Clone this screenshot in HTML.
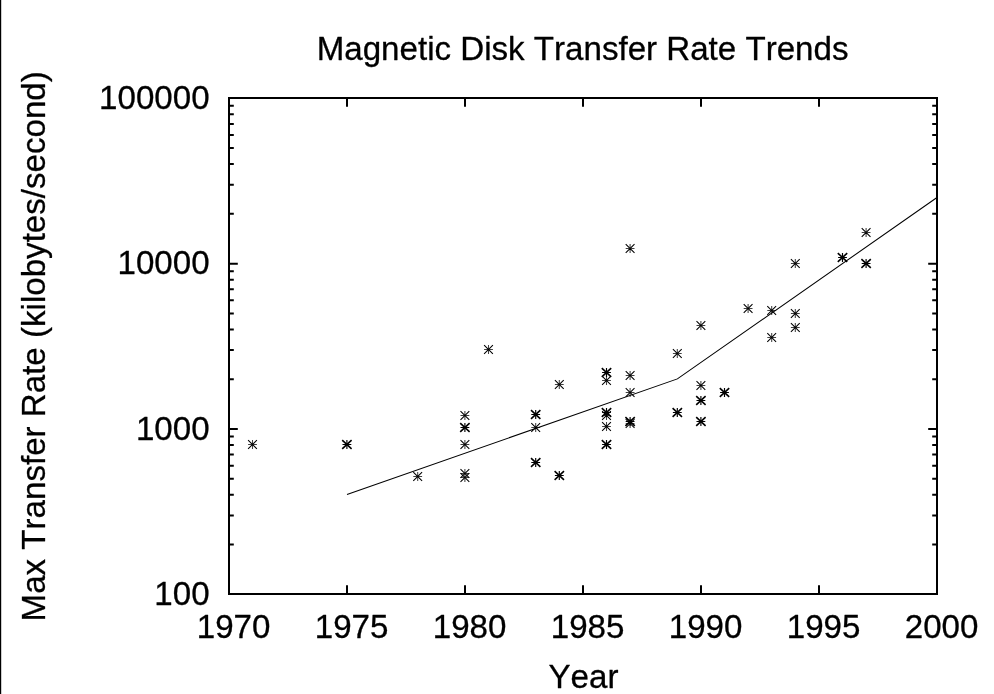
<!DOCTYPE html>
<html><head><meta charset="utf-8"><title>Magnetic Disk Transfer Rate Trends</title>
<style>html,body{margin:0;padding:0;background:#fff;}body{width:994px;height:694px;overflow:hidden;}svg{display:block;will-change:transform;}text{font-family:"Liberation Sans",sans-serif;fill:#000;font-kerning:none;}</style></head><body>
<svg width="994" height="694" viewBox="0 0 994 694">
<rect x="0" y="0" width="994" height="694" fill="#fff"/>
<rect x="0" y="0" width="1.2" height="694" fill="#000"/>
<g stroke="#000" stroke-width="2" fill="none" stroke-linecap="butt">
<rect x="229.0" y="98.0" width="708.0" height="496.0"/>
<path d="M347 594.0V585.2M347 98.0V106.8M465 594.0V585.2M465 98.0V106.8M583 594.0V585.2M583 98.0V106.8M701 594.0V585.2M701 98.0V106.8M819 594.0V585.2M819 98.0V106.8M229.0 544.5H233.8M937.0 544.5H932.2M229.0 515.5H233.8M937.0 515.5H932.2M229.0 494.75H233.8M937.0 494.75H932.2M229.0 478.75H233.8M937.0 478.75H932.2M229.0 465.75H233.8M937.0 465.75H932.2M229.0 454.5H233.8M937.0 454.5H932.2M229.0 445.0H233.8M937.0 445.0H932.2M229.0 436.5H233.8M937.0 436.5H932.2M229.0 429.0H237.8M937.0 429.0H928.2M229.0 379.25H233.8M937.0 379.25H932.2M229.0 350.0H233.8M937.0 350.0H932.2M229.0 329.5H233.8M937.0 329.5H932.2M229.0 313.5H233.8M937.0 313.5H932.2M229.0 300.25H233.8M937.0 300.25H932.2M229.0 289.25H233.8M937.0 289.25H932.2M229.0 279.75H233.8M937.0 279.75H932.2M229.0 271.25H233.8M937.0 271.25H932.2M229.0 263.75H237.8M937.0 263.75H928.2M229.0 213.75H233.8M937.0 213.75H932.2M229.0 184.75H233.8M937.0 184.75H932.2M229.0 164.0H233.8M937.0 164.0H932.2M229.0 148.0H233.8M937.0 148.0H932.2M229.0 135.0H233.8M937.0 135.0H932.2M229.0 124.0H233.8M937.0 124.0H932.2M229.0 114.25H233.8M937.0 114.25H932.2M229.0 105.75H233.8M937.0 105.75H932.2"/>
</g>
<polyline fill="none" stroke="#000" stroke-width="1.05" points="347.00,494.46 677.40,378.90 937.00,197.54"/>
<g stroke="#000" fill="none">
<path stroke-width="1.05" stroke-opacity="0.75" d="M248.10 444.5H256.90M252.50 440.1V448.9M413.30 476.5H422.10M417.70 472.1V480.9M460.50 415.5H469.30M464.90 411.1V419.9M460.50 444.5H469.30M464.90 440.1V448.9M460.50 473.5H469.30M464.90 469.1V477.9M460.50 477.5H469.30M464.90 473.1V481.9M484.10 349.5H492.90M488.50 345.1V353.9M531.30 427.5H540.10M535.70 423.1V431.9M554.90 384.5H563.70M559.30 380.1V388.9M602.10 380.5H610.90M606.50 376.1V384.9M602.10 415.5H610.90M606.50 411.1V419.9M602.10 426.5H610.90M606.50 422.1V430.9M625.70 248.5H634.50M630.10 244.1V252.9M625.70 375.5H634.50M630.10 371.1V379.9M625.70 392.5H634.50M630.10 388.1V396.9M625.70 423.5H634.50M630.10 419.1V427.9M672.90 353.5H681.70M677.30 349.1V357.9M696.50 325.5H705.30M700.90 321.1V329.9M696.50 385.5H705.30M700.90 381.1V389.9M743.70 308.5H752.50M748.10 304.1V312.9M767.30 310.5H776.10M771.70 306.1V314.9M767.30 337.5H776.10M771.70 333.1V341.9M790.90 263.5H799.70M795.30 259.1V267.9M790.90 313.5H799.70M795.30 309.1V317.9M790.90 327.5H799.70M795.30 323.1V331.9M861.70 232.5H870.50M866.10 228.1V236.9"/>
<path stroke-width="1.05" d="M248.10 440.1L256.90 448.9M248.10 448.9L256.90 440.1M413.30 472.1L422.10 480.9M413.30 480.9L422.10 472.1M460.50 411.1L469.30 419.9M460.50 419.9L469.30 411.1M460.50 440.1L469.30 448.9M460.50 448.9L469.30 440.1M460.50 469.1L469.30 477.9M460.50 477.9L469.30 469.1M460.50 473.1L469.30 481.9M460.50 481.9L469.30 473.1M484.10 345.1L492.90 353.9M484.10 353.9L492.90 345.1M531.30 423.1L540.10 431.9M531.30 431.9L540.10 423.1M554.90 380.1L563.70 388.9M554.90 388.9L563.70 380.1M602.10 376.1L610.90 384.9M602.10 384.9L610.90 376.1M602.10 411.1L610.90 419.9M602.10 419.9L610.90 411.1M602.10 422.1L610.90 430.9M602.10 430.9L610.90 422.1M625.70 244.1L634.50 252.9M625.70 252.9L634.50 244.1M625.70 371.1L634.50 379.9M625.70 379.9L634.50 371.1M625.70 388.1L634.50 396.9M625.70 396.9L634.50 388.1M625.70 419.1L634.50 427.9M625.70 427.9L634.50 419.1M672.90 349.1L681.70 357.9M672.90 357.9L681.70 349.1M696.50 321.1L705.30 329.9M696.50 329.9L705.30 321.1M696.50 381.1L705.30 389.9M696.50 389.9L705.30 381.1M743.70 304.1L752.50 312.9M743.70 312.9L752.50 304.1M767.30 306.1L776.10 314.9M767.30 314.9L776.10 306.1M767.30 333.1L776.10 341.9M767.30 341.9L776.10 333.1M790.90 259.1L799.70 267.9M790.90 267.9L799.70 259.1M790.90 309.1L799.70 317.9M790.90 317.9L799.70 309.1M790.90 323.1L799.70 331.9M790.90 331.9L799.70 323.1M861.70 228.1L870.50 236.9M861.70 236.9L870.50 228.1"/>
<path stroke-width="1.15" d="M342.50 444.5H351.30M346.90 440.1V448.9M460.50 427.5H469.30M464.90 423.1V431.9M531.30 414.5H540.10M535.70 410.1V418.9M531.30 462.5H540.10M535.70 458.1V466.9M554.90 475.5H563.70M559.30 471.1V479.9M602.10 372.5H610.90M606.50 368.1V376.9M602.10 412.5H610.90M606.50 408.1V416.9M602.10 444.5H610.90M606.50 440.1V448.9M625.70 421.5H634.50M630.10 417.1V425.9M672.90 412.5H681.70M677.30 408.1V416.9M696.50 400.5H705.30M700.90 396.1V404.9M696.50 421.5H705.30M700.90 417.1V425.9M720.10 392.5H728.90M724.50 388.1V396.9M838.10 257.5H846.90M842.50 253.1V261.9M861.70 263.5H870.50M866.10 259.1V267.9"/>
<path stroke-width="1.6" d="M342.20 440.1L351.60 448.9M342.20 448.9L351.60 440.1M460.20 423.1L469.60 431.9M460.20 431.9L469.60 423.1M531.00 410.1L540.40 418.9M531.00 418.9L540.40 410.1M531.00 458.1L540.40 466.9M531.00 466.9L540.40 458.1M554.60 471.1L564.00 479.9M554.60 479.9L564.00 471.1M601.80 368.1L611.20 376.9M601.80 376.9L611.20 368.1M601.80 408.1L611.20 416.9M601.80 416.9L611.20 408.1M601.80 440.1L611.20 448.9M601.80 448.9L611.20 440.1M625.40 417.1L634.80 425.9M625.40 425.9L634.80 417.1M672.60 408.1L682.00 416.9M672.60 416.9L682.00 408.1M696.20 396.1L705.60 404.9M696.20 404.9L705.60 396.1M696.20 417.1L705.60 425.9M696.20 425.9L705.60 417.1M719.80 388.1L729.20 396.9M719.80 396.9L729.20 388.1M837.80 253.1L847.20 261.9M837.80 261.9L847.20 253.1M861.40 259.1L870.80 267.9M861.40 267.9L870.80 259.1"/>
</g>
<g font-size="33.12" stroke="#000" stroke-width="0.3" stroke-linejoin="round">
<text x="582.6" y="60.1" text-anchor="middle">Magnetic Disk Transfer Rate Trends</text>
<text x="209.6" y="108.6" text-anchor="end">100000</text>
<text x="209.6" y="274.4" text-anchor="end">10000</text>
<text x="209.6" y="439.7" text-anchor="end">1000</text>
<text x="209.6" y="604.6" text-anchor="end">100</text>
<text x="233.60" y="638.3" text-anchor="middle">1970</text>
<text x="351.60" y="638.3" text-anchor="middle">1975</text>
<text x="469.60" y="638.3" text-anchor="middle">1980</text>
<text x="587.60" y="638.3" text-anchor="middle">1985</text>
<text x="705.60" y="638.3" text-anchor="middle">1990</text>
<text x="823.60" y="638.3" text-anchor="middle">1995</text>
<text x="941.60" y="638.3" text-anchor="middle">2000</text>
<text x="583.5" y="687.6" text-anchor="middle">Year</text>
<text transform="translate(44.9 346.3) rotate(-90)" text-anchor="middle">Max Transfer Rate (kilobytes/second)</text>
</g>
</svg></body></html>
